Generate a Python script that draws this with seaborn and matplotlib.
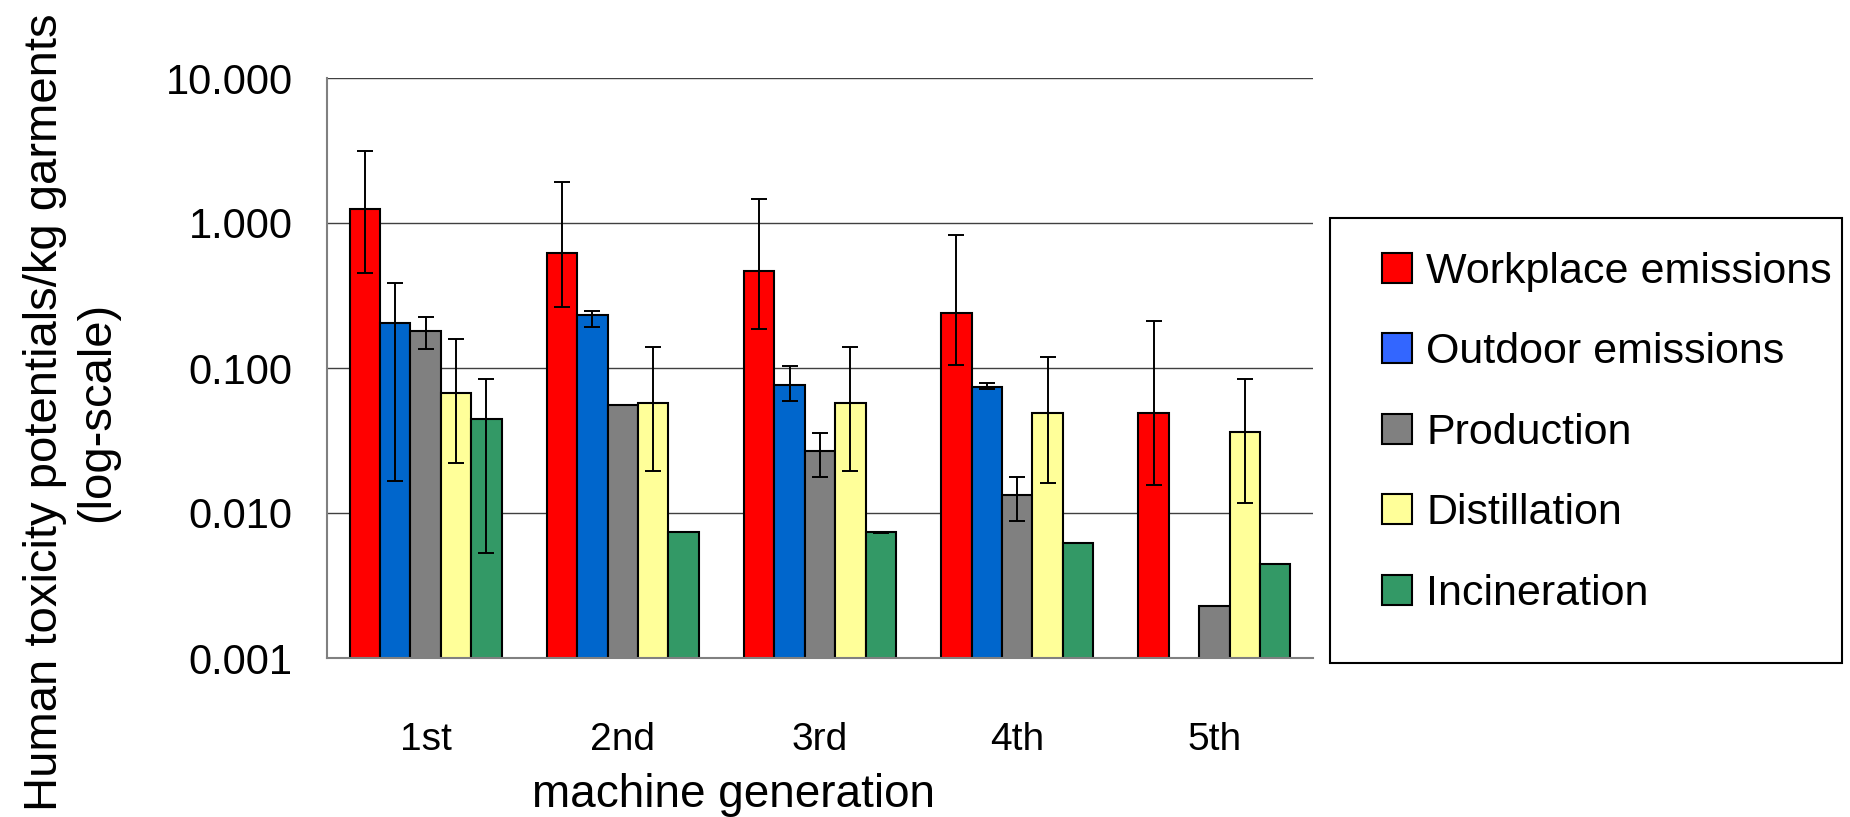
import numpy as np
import pandas as pd
import matplotlib
matplotlib.use("Agg")
import matplotlib.pyplot as plt
import seaborn as sns
from matplotlib.patches import Patch, Rectangle
from matplotlib.container import BarContainer
from matplotlib.ticker import FixedLocator, FuncFormatter, NullLocator

# ---------------- data ----------------
generations = ["1st", "2nd", "3rd", "4th", "5th"]
sources = ["Workplace emissions", "Outdoor emissions", "Production",
           "Distillation", "Incineration"]

workplace = [1.24, 0.62, 0.464, 0.239, 0.049]
workplace_lo = [0.45, 0.262, 0.186, 0.105, 0.0156]
workplace_hi = [3.12, 1.92, 1.46, 0.82, 0.21]

outdoor = [0.204, 0.231, 0.0764, 0.074, np.nan]
outdoor_lo = [0.0166, 0.192, 0.0594, 0.072, np.nan]
outdoor_hi = [0.385, 0.248, 0.1026, 0.0788, np.nan]

production = [0.18, 0.0555, 0.0268, 0.0134, 0.00227]
production_lo = [0.135, np.nan, 0.0177, 0.00885, np.nan]
production_hi = [0.224, np.nan, 0.0357, 0.0178, np.nan]

distillation = [0.0675, 0.0573, 0.0573, 0.049, 0.036]
distillation_lo = [0.0222, 0.0196, 0.0196, 0.0161, 0.0118]
distillation_hi = [0.158, 0.139, 0.139, 0.12, 0.0838]

incineration = [0.0446, 0.00738, 0.00735, 0.00622, 0.00444]
incineration_lo = [0.00533, np.nan, 0.00732, 0.00620, np.nan]
incineration_hi = [0.0838, np.nan, 0.00738, 0.00624, np.nan]

y_ticks = [0.001, 0.01, 0.1, 1, 10]

bar_colors = ["#FF0000", "#0066CC", "#808080", "#FFFF99", "#339966"]
legend_colors = ["#FF0000", "#3366FF", "#808080", "#FFFF99", "#339966"]

values = [workplace, outdoor, production, distillation, incineration]
lows = [workplace_lo, outdoor_lo, production_lo, distillation_lo, incineration_lo]
highs = [workplace_hi, outdoor_hi, production_hi, distillation_hi, incineration_hi]

rows = []
for s, vals in zip(sources, values):
    for g, v in zip(generations, vals):
        rows.append({"generation": g, "source": s, "value": v})
df = pd.DataFrame(rows)

# ---------------- figure ----------------
sns.set_style("white")
plt.rcParams["font.family"] = ["Liberation Sans", "DejaVu Sans"]
plt.rcParams["text.color"] = "black"
plt.rcParams["axes.labelcolor"] = "black"

W, H = 1850, 817
fig = plt.figure(figsize=(W / 100, H / 100), dpi=100)
ax_left, ax_right, ax_top, ax_bot = 327, 1313, 78, 658
ax_w, ax_h = ax_right - ax_left, ax_bot - ax_top
ax = fig.add_axes([ax_left / W, (H - ax_bot) / H, ax_w / W, ax_h / H])

sns.barplot(data=df, x="generation", y="value", hue="source",
            order=generations, hue_order=sources, palette=bar_colors,
            saturation=1, edgecolor="black", linewidth=1.5, width=0.77,
            gap=0, errorbar=None, legend=False, ax=ax, zorder=2)

ax.set_yscale("log")
ax.set_ylim(0.001, 10)
ax.set_xlim(-0.5, 4.5)

# error bars positioned from the library-drawn bars
bar_containers = [c for c in ax.containers if isinstance(c, BarContainer)]
for i, cont in enumerate(bar_containers):
    for bar in cont:
        if bar is None:
            continue
        xc = bar.get_x() + bar.get_width() / 2
        j = int(round(xc))
        v = values[i][j]
        lo, hi = lows[i][j], highs[i][j]
        if np.isnan(v) or np.isnan(lo):
            continue
        ax.errorbar(xc, v, yerr=[[v - lo], [hi - v]], fmt="none",
                    ecolor="black", elinewidth=1.4, capsize=5.7,
                    capthick=1.4, zorder=3)

# axes styling
ax.yaxis.set_major_locator(FixedLocator(y_ticks))
ax.yaxis.set_minor_locator(NullLocator())
ax.yaxis.set_major_formatter(FuncFormatter(lambda v, p: f"{v:.3f}"))
ax.yaxis.grid(True, color="#404040", linewidth=1.0)
ax.xaxis.grid(False)
ax.set_axisbelow(True)
for s in ["top", "right"]:
    ax.spines[s].set_visible(False)
for s in ["left", "bottom"]:
    ax.spines[s].set_color("#808080")
    ax.spines[s].set_linewidth(1.5)

ax.tick_params(axis="y", which="major", length=8.6, width=1.2, color="#808080",
               direction="out", pad=16, labelsize=30, labelcolor="black")
ax.set_xticks(np.arange(-0.5, 5.0, 1.0), minor=True)
ax.tick_params(axis="x", which="minor", length=8.6, width=1.2, color="#808080",
               direction="out")
ax.tick_params(axis="x", which="major", length=0, pad=46, labelsize=28,
               labelcolor="black")

ax.set_xlabel("machine generation", fontsize=33)
ax.xaxis.set_label_coords((734 - ax_left) / ax_w, (ax_bot - 817) / ax_h)
ax.xaxis.label.set_va("bottom")

ax.set_ylabel("Human toxicity potentials/kg garments", fontsize=34)
ax.yaxis.set_label_coords(-(ax_left - 45) / ax_w, (ax_bot - 412) / ax_h)
ax.yaxis.label.set_va("center")
fig.text(97 / W, (H - 412) / H, "(log-scale)", rotation=90, ha="center",
         va="center", fontsize=34)

# legend
handles = [Patch(facecolor=c, edgecolor="black", linewidth=1.5)
           for c in legend_colors]
fig.legend(handles, sources, loc="upper left",
           bbox_to_anchor=(1382 / W, (H - 252) / H), frameon=False,
           fontsize=31, handlelength=0.7, handleheight=0.7,
           handletextpad=0.33, labelspacing=0.94, borderpad=0,
           borderaxespad=0)
fig.patches.append(Rectangle((1330 / W, (H - 663) / H), 512 / W, 445 / H,
                             transform=fig.transFigure, fill=False,
                             edgecolor="black", linewidth=1.5))

fig.savefig("out.png", dpi=100)
